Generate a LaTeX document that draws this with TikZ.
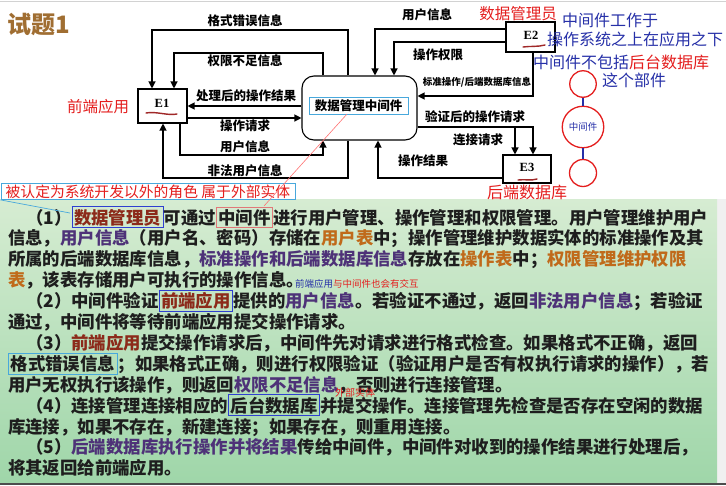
\documentclass[tikz,border=0pt]{standalone}
\usepackage{fontspec}
\setmainfont{Noto Sans CJK SC}
\newfontfamily\latf{Liberation Serif}
\usetikzlibrary{arrows.meta}
\definecolor{txt}{HTML}{1E1E1E}
\definecolor{purp}{HTML}{4E3278}
\definecolor{orng}{HTML}{C06A1A}
\definecolor{dred}{HTML}{8C2A1A}
\definecolor{boxblue}{HTML}{2F3FD0}
\definecolor{boxred}{HTML}{E07878}
\definecolor{lblue}{HTML}{48A8DC}
\definecolor{annred}{HTML}{E41E1E}
\definecolor{annblue}{HTML}{2630A8}
\definecolor{ttlc}{HTML}{A06E32}
\definecolor{gTop}{HTML}{D6ECD2}
\definecolor{gBot}{HTML}{9FD6A9}
\definecolor{sqred}{HTML}{A02828}
\newcommand\pu[1]{\textcolor{purp}{#1}}
\newcommand\og[1]{\textcolor{orng}{#1}}
\newcommand\bxx[2]{{\fboxrule=1.1pt\fboxsep=1.5pt\color{#1}\fbox{#2}}}
\tikzset{
  ent/.style={draw, line width=1.1pt, fill=white, inner sep=0pt},
  arr/.style={draw, line width=1.2pt, -{Triangle[length=7pt,width=7pt]}},
  lab/.style={inner sep=0pt, font=\fontsize{12.5}{14}\selectfont\bfseries},
  slab/.style={inner sep=0pt, font=\fontsize{9.5}{11}\selectfont\bfseries},
  ln/.style={anchor=base west, inner sep=0pt, text=txt, font=\fontsize{17.4}{20}\selectfont\bfseries},
  hred/.style={inner sep=0pt, text=annred, font=\fontsize{15.5}{18}\selectfont},
  hblue/.style={inner sep=0pt, anchor=west, text=annblue, font=\fontsize{16}{18}\selectfont},
  circ/.style={circle, draw=annred, line width=1.3pt, inner sep=0pt},
  squig/.style={draw=sqred, line width=1.4pt, line cap=round}
}
\begin{document}
\begin{tikzpicture}[x=1pt,y=-1pt]
\useasboundingbox (0,0) rectangle (726,485);
\fill[white] (0,0) rectangle (726,485);
\draw[gray!35, line width=1pt] (0,1) -- (726,1);
\fill[gray!12] (717,199) rectangle (726,485);
\shade[top color=gTop, bottom color=gBot] (0,199) rectangle (717,483);
\fill[gray!60!black] (0,483) rectangle (726,485);

% title
\node[inner sep=0pt, text=ttlc, font=\fontsize{24}{26}\selectfont\bfseries] (ttl) at (39,24) {试题1};

% entities
\node[ent, minimum width=49pt, minimum height=34pt] (E1) at (162.5,106) {};
\node[inner sep=0pt, font=\latf\bfseries\fontsize{12.5}{14}\selectfont] (E1t) at (162,103) {E1};
\node[ent, minimum width=49pt, minimum height=30pt] (E2) at (530.5,37) {};
\node[inner sep=0pt, font=\latf\bfseries\fontsize{12.5}{14}\selectfont] (E2t) at (531,35) {E2};
\node[ent, minimum width=48pt, minimum height=28pt] (E3) at (527,169) {};
\node[inner sep=0pt, font=\latf\bfseries\fontsize{12.5}{14}\selectfont] (E3t) at (527,167) {E3};
\node[ent, minimum width=115pt, minimum height=64pt, rounded corners=12pt] (mw) at (359.5,108) {};
\node[draw=lblue, line width=0.8pt, inner sep=0pt, minimum width=99pt, minimum height=17pt, font=\fontsize{12.5}{14}\selectfont\bfseries] (mwt) at (358.5,105.5) {数据管理中间件};

% left flows
\coordinate (p1) at (348,30); \coordinate (p2) at (152,30);
\draw[arr] (mw.north -| p1) -- (p1) -- (p2) -- (E1.north -| p2);
\coordinate (q1) at (323,53); \coordinate (q2) at (174,53);
\draw[arr] (mw.north -| q1) -- (q1) -- (q2) -- (E1.north -| q2);
\coordinate (r1) at (0,106);
\draw[arr] (mw.west |- r1) -- (E1.east |- r1);
\coordinate (r2) at (0,118);
\draw[arr] (E1.east |- r2) -- (mw.west |- r2);
\coordinate (s1) at (180,155); \coordinate (s2) at (323,155);
\draw[arr] (E1.south -| s1) -- (s1) -- (s2) -- (mw.south -| s2);
\coordinate (t1) at (348,178); \coordinate (t2) at (163,178);
\draw[arr] (mw.south -| t1) -- (t1) -- (t2) -- (E1.south -| t2);
% right flows
\coordinate (u1) at (375,29);
\draw[arr] (E2.west |- u1) -- (u1) -- (mw.north -| u1);
\coordinate (v1) at (394,42);
\draw[arr] (E2.west |- v1) -- (v1) -- (mw.north -| v1);
\coordinate (w1) at (533,96);
\draw[arr] (E2.south -| w1) -- (w1) -- (mw.east |- w1);
\coordinate (x1) at (533,127);
\coordinate (y1) at (515,127);
\draw[arr] (mw.east |- x1) -- (x1) -- (E3.north -| x1);
\draw[arr] (y1) -- (E3.north -| y1);
\coordinate (z1) at (378,178);
\draw[arr] (E3.west |- z1) -- (z1) -- (mw.south -| z1);

% flow labels
\node[lab] (l1) at (245,21) {格式错误信息};
\node[lab] (l2) at (245,61) {权限不足信息};
\node[lab] (l3) at (246,96) {处理后的操作结果};
\node[lab] (l4) at (245,126) {操作请求};
\node[lab] (l5) at (245,147) {用户信息};
\node[lab] (l6) at (245,171) {非法用户信息};
\node[lab] (l7) at (427,15) {用户信息};
\node[lab] (l8) at (438,55) {操作权限};
\node[slab] (l9) at (477,82) {标准操作/后端数据库信息};
\node[lab] (l10) at (475,117) {验证后的操作请求};
\node[lab] (l11) at (478,140) {连接请求};
\node[lab] (l12) at (423,161) {操作结果};

% red underlines
\draw[squig] (146,113) .. controls (156,111) and (168,116) .. (177,114);
\draw[squig] (523,47) .. controls (530,46) and (538,47) .. (545,45);
\draw[squig] (518,180) .. controls (525,179) and (531,181) .. (537,179);

% handwritten annotations
\node[hred] (h1) at (98,107) {前端应用};
\node[hred] (h2) at (518,14) {数据管理员};
\node[hred, font=\fontsize{16}{18}\selectfont] (h3) at (527,192) {后端数据库};
\node[hblue] (b1) at (562,20) {中间件工作于};
\node[hblue] (b2) at (547,39) {操作系统之上在应用之下};
\node[hblue] (b3) at (533,62) {中间件不包括\textcolor{annred}{后台数据库}};
\node[hblue] (b4) at (602,80) {这个部件};

% circles
\node[circ, minimum size=26.5pt] (c1) at (583,84) {};
\node[circ, minimum size=41.5pt, text=annblue, font=\fontsize{9.5}{11}\selectfont] (c2) at (583,127) {中间件};
\node[circ, minimum size=27pt] (c3) at (583,173) {};
\draw[annblue, line width=1.3pt] (c1) -- (c2);
\draw[annblue, line width=1.3pt] (c2) -- (c3);

% annotation box
\node[draw=lblue, line width=0.9pt, inner sep=0pt, minimum width=294pt, minimum height=16pt, anchor=north west, text=annred, font=\fontsize{14.8}{16}\selectfont] (ann) at (0.5,183) {被认定为系统开发以外的角色 属于外部实体};

% paragraph
\node[ln] (t1) at (26,224) {（1）\bxx{boxblue}{\textcolor{dred}{数据管理员}}可通过\bxx{boxred}{\textcolor{txt}{中间件}}进行用户管理、操作管理和权限管理。用户管理维护用户};
\node[ln] (t2) at (8,244.9) {信息，\pu{用户信息}（用户名、密码）存储在\og{用户表}中；操作管理维护数据实体的标准操作及其};
\node[ln] (t3) at (8,265.8) {所属的后端数据库信息，\pu{标准操作和后端数据库信息}存放在\og{操作表}中；\og{权限管理维护权限}};
\node[ln] (t4) at (8,286.7) {\og{表}，该表存储用户可执行的操作信息。};
\node[ln] (t5) at (26,307.6) {（2）中间件验证\bxx{boxblue}{\textcolor{dred}{前端应用}}提供的\pu{用户信息}。若验证不通过，返回\pu{非法用户信息}；若验证};
\node[ln] (t6) at (8,328.5) {通过，中间件将等待前端应用提交操作请求。};
\node[ln] (t7) at (26,349.4) {（3）\textcolor{dred}{前端应用}提交操作请求后，中间件先对请求进行格式检查。如果格式不正确，返回};
\node[ln] (t8) at (8,370.3) {\bxx{lblue}{\textcolor{txt}{格式错误信息}}；如果格式正确，则进行权限验证（验证用户是否有权执行请求的操作），若};
\node[ln] (t9) at (8,391.2) {用户无权执行该操作，则返回\pu{权限不足信息}，否则进行连接管理。};
\node[ln] (t10) at (26,412.1) {（4）连接管理连接相应的\bxx{boxblue}{\textcolor{txt}{后台数据库}}并提交操作。连接管理先检查是否存在空闲的数据};
\node[ln] (t11) at (8,433) {库连接，如果不存在，新建连接；如果存在，则重用连接。};
\node[ln] (t12) at (26,453.9) {（5）\pu{后端数据库执行操作并将结果}传给中间件，中间件对收到的操作结果进行处理后，};
\node[ln] (t13) at (8,474.8) {将其返回给前端应用。};

% pointer lines
\coordinate (db) at (264,206);
\draw[red!55, line width=0.6pt] (mwt.-143) -- (db);
\coordinate (kb) at (70,213);
\draw[lblue, line width=0.7pt] (ann.south west) -- (kb);

% small annotations on paragraph
\node[inner sep=0pt, anchor=west, font=\fontsize{9.5}{11}\selectfont] (sa) at (295,284) {\textcolor{annblue}{前端应用}\textcolor{annred}{与中间件也会有交互}};
\node[inner sep=0pt, text=annred, font=\fontsize{10}{11}\selectfont] (sb) at (355,393) {外部实体};
\end{tikzpicture}
\end{document}
